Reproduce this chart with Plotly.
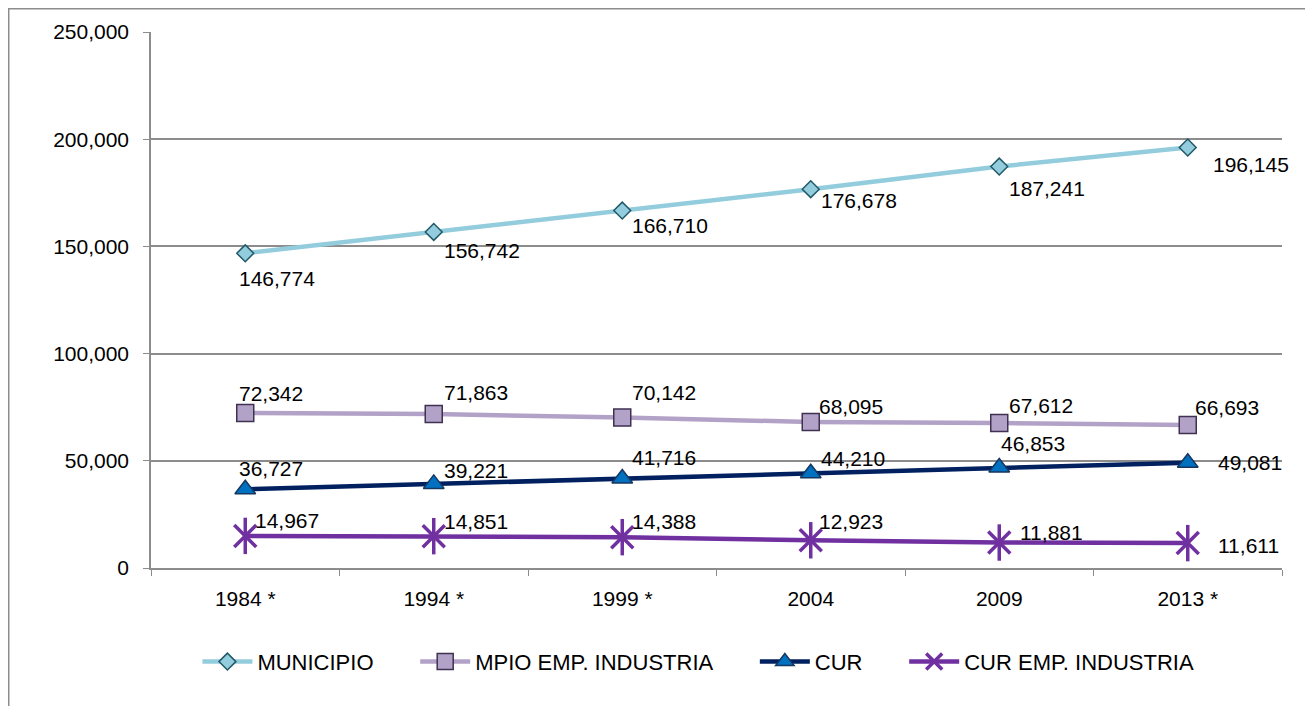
import plotly.graph_objects as go

years = ["1984 *", "1994 *", "1999 *", "2004", "2009", "2013 *"]
municipio = [146774, 156742, 166710, 176678, 187241, 196145]
mpio_emp_industria = [72342, 71863, 70142, 68095, 67612, 66693]
cur = [36727, 39221, 41716, 44210, 46853, 49081]
cur_emp_industria = [14967, 14851, 14388, 12923, 11881, 11611]

# label offsets (px) relative to each point: (dx, dy), text anchored left
label_offsets = {
    "MUNICIPIO": [(-8, 25), (8, 19), (8, 15), (8, 11), (8, 22), (23, 17)],
    "MPIO EMP. INDUSTRIA": [(-8, -19), (8, -21), (8, -25), (6, -16), (8, -18), (5, -18)],
    "CUR": [(-8, -21), (8, -13), (8, -21), (8, -15), (0, -24), (28, 0)],
    "CUR EMP. INDUSTRIA": [(8, -15), (8, -15), (8, -16), (6, -19), (19, -10), (28, 2)],
}

pad = "\u00a0" * 6  # extra room between legend entries
series = [
    ("MUNICIPIO", municipio, "#93CDDD",
     dict(symbol="diamond", size=13, color="#93CDDD", line=dict(color="#215968", width=1.5))),
    ("MPIO EMP. INDUSTRIA", mpio_emp_industria, "#B3A2C7",
     dict(symbol="square", size=17, color="#B3A2C7", line=dict(color="#3F3151", width=1.5))),
    ("CUR", cur, "#002060",
     dict(symbol="triangle-up", size=18, color="#0070C0", line=dict(color="#17375E", width=1.5))),
    ("CUR EMP. INDUSTRIA", cur_emp_industria, "#7030A0",
     dict(symbol="x-thin-open", size=22, color="#7030A0", line=dict(color="#7030A0", width=3.5))),
]

fig = go.Figure()
for i, (name, vals, color, marker) in enumerate(series):
    legend_name = name + (pad if i < len(series) - 1 else "")
    fig.add_trace(go.Scatter(x=years, y=vals, name=legend_name, mode="lines+markers",
                             line=dict(color=color, width=4.5), marker=marker))
    if name == "CUR EMP. INDUSTRIA":
        # vertical stroke to complete the star marker
        fig.add_trace(go.Scatter(x=years, y=vals, mode="markers", showlegend=False,
                                 hoverinfo="skip",
                                 marker=dict(symbol="line-ns-open", size=26, color=color,
                                             line=dict(color=color, width=3.5))))
    for k, (yv, (dx, dy)) in enumerate(zip(vals, label_offsets[name])):
        fig.add_annotation(x=k, y=yv, text=f"{yv:,}", showarrow=False,
                           xanchor="left", yanchor="middle", xshift=dx, yshift=-dy,
                           font=dict(size=21, color="black"))

# outer chart border
fig.add_shape(type="rect", xref="paper", yref="paper",
              x0=-0.1258, x1=1.032, y0=-0.3, y1=1.0434,
              line=dict(color="#8C8C8C", width=1.5), layer="below")

fig.update_layout(
    width=1305, height=698,
    margin=dict(l=143, r=31, t=24, b=138),
    paper_bgcolor="white", plot_bgcolor="white",
    font=dict(family="Liberation Sans, Arial, sans-serif", size=21, color="black"),
    legend=dict(orientation="h", x=0.484, xanchor="center", y=-0.175, yanchor="middle",
                font=dict(size=22), itemwidth=50),
)
fig.update_xaxes(type="category", range=[-0.5, 5.5], showline=True, linecolor="#8C8C8C",
                 linewidth=1.5, ticks="outside", tickson="boundaries", ticklen=6,
                 tickcolor="#8C8C8C", showgrid=False, tickfont=dict(size=21),
                 ticklabelstandoff=11)
fig.update_yaxes(range=[0, 250000], dtick=50000, tickformat=",", showline=True,
                 linecolor="#8C8C8C", linewidth=1.5, ticks="outside", ticklen=6,
                 tickcolor="#8C8C8C", gridcolor="#8C8C8C", gridwidth=1.5,
                 zeroline=False, tickfont=dict(size=21), ticklabelstandoff=10)

fig.write_html("out.html")
